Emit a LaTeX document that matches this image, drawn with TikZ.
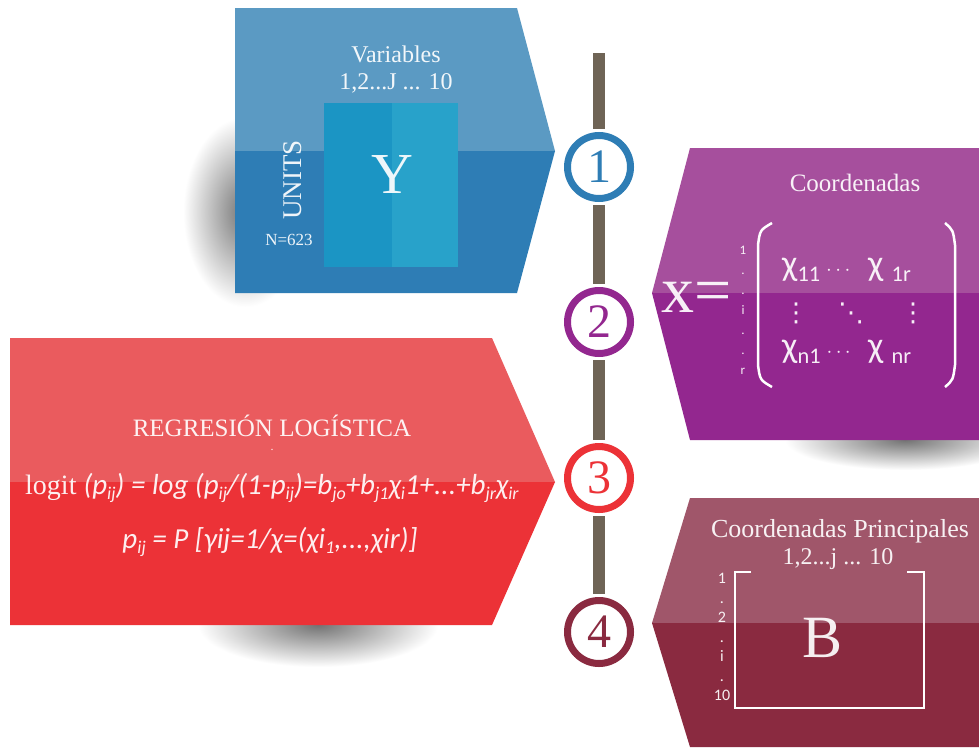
\documentclass[tikz,border=0pt]{standalone}
\usepackage{fontspec}
\setmainfont{Liberation Serif}
\newfontfamily\calibri{Carlito}
\newfontfamily\dejavu{DejaVu Sans}
\usetikzlibrary{positioning}
\definecolor{blueT}{HTML}{5B9AC3}
\definecolor{blueB}{HTML}{2E7DB5}
\definecolor{blueIL}{HTML}{1B95C4}
\definecolor{blueIR}{HTML}{28A2CA}
\definecolor{purpT}{HTML}{A64F9D}
\definecolor{purpB}{HTML}{93278F}
\definecolor{redT}{HTML}{EA5B5E}
\definecolor{redB}{HTML}{EC3237}
\definecolor{marT}{HTML}{A0566A}
\definecolor{marB}{HTML}{8A2A40}
\definecolor{barc}{HTML}{6F6456}
\newcommand{\fsz}[1]{\fontsize{#1}{#1}\selectfont}
\newcommand{\lowtxt}[1]{\raisebox{-0.35ex}{\scalebox{0.62}{#1}}}

\begin{document}
\begin{tikzpicture}[x=1pt, y=-1pt,
    wtxt/.style={text=white, text opacity=0.92, inner sep=0pt},
    ring/.style={circle, draw=#1, text=#1, line width=7pt, fill=white, minimum size=63pt, inner sep=0pt, font=\fsz{48}},
    bar/.style={line width=12pt, draw=barc, shorten >=3pt},
    shadowblob/.style={inner color=black!55, outer color=white}
]
\useasboundingbox (0,0) rectangle (979,747);
\fill[white] (0,0) rectangle (979,747);

\shade[shadowblob] (245,212) ellipse [x radius=62, y radius=95];
\shade[shadowblob] (318,625) ellipse [x radius=120, y radius=42];
\shade[shadowblob] (905,440) ellipse [x radius=120, y radius=30];
\shade[shadowblob] (982,640) ellipse [x radius=25, y radius=110];

\fill[blueT] (235,8) -- (517,8) -- (555,151) -- (235,151) -- cycle;
\fill[blueB] (235,151) -- (555,151) -- (517,293) -- (235,293) -- cycle;
\fill[blueIL] (324,103) rectangle (392,267);
\fill[blueIR] (392,103) rectangle (458,267);

\node[wtxt, font=\fsz{24}] (vars) at (396,54) {Variables};
\node[wtxt, font=\fsz{24}, below=11pt of vars] (vrange) {1,2...J ... 10};
\node[wtxt, font=\fsz{27}, rotate=90] (units) at (293,180) {UNITS};
\node[wtxt, font=\fsz{17}] (nunits) at (289,240) {N=623};
\node[wtxt, font=\fsz{58}] (ymat) at (392,175) {Y};

\fill[purpT] (690,148) -- (979,148) -- (979,293) -- (652,293) -- cycle;
\fill[purpB] (652,293) -- (979,293) -- (979,440) -- (690,440) -- cycle;

\node[wtxt, font=\fsz{25}] (coord) at (855,183) {Coordenadas};
\node[wtxt, font=\fsz{66}] (xeq) at (697,297) {x=};
\node[wtxt, font=\calibri\fontsize{13}{20}\selectfont, align=center] (xrows) at (743,310) {1\\.\\.\\i\\.\\.\\r};
\node[wtxt, font=\calibri\fsz{36}, anchor=west] (x11) at (782,270) {χ\lowtxt{11}\,{\fsz{22}$\cdots$}};
\node[wtxt, font=\calibri\fsz{36}, anchor=west] (x1r) at (868,270) {χ \lowtxt{1r}};
\node[wtxt, font=\calibri\fsz{36}, anchor=west] (xn1) at (782,352) {χ\lowtxt{n1}\,{\fsz{22}$\cdots$}};
\node[wtxt, font=\calibri\fsz{36}, anchor=west] (xnr) at (868,352) {χ \lowtxt{nr}};
\node[wtxt, font=\dejavu\fsz{26}] (vd1) at (796,313) {⋮};
\node[wtxt, font=\dejavu\fsz{26}] (dd) at (851,313) {⋱};
\node[wtxt, font=\dejavu\fsz{26}] (vd2) at (913,313) {⋮};
\draw[white, line width=2.5pt] (772,223) .. controls (760,230) .. (758,245) -- (758,365) .. controls (760,380) .. (772,387);
\draw[white, line width=2.5pt] (945,223) .. controls (953,230) .. (955,245) -- (955,365) .. controls (953,380) .. (945,387);

\fill[redT] (10,338) -- (492,338) -- (555,482) -- (10,482) -- cycle;
\fill[redB] (10,482) -- (555,482) -- (492,625) -- (10,625) -- cycle;

\node[wtxt, font=\fsz{25}] (rlog) at (272,426) {REGRESIÓN LOGÍSTICA};
\node[wtxt, font=\fsz{12}] (rdot) at (272,450) {.};
\node[wtxt, anchor=west] (logit) at (25,488) {{\fsz{28}logit }{\calibri\itshape\fsz{29}(p\lowtxt{ij}) = log (p\lowtxt{ij}/(1-p\lowtxt{ij})=b\lowtxt{jo}+b\lowtxt{j1}χ\lowtxt{i}1+...+b\lowtxt{jr}χ\lowtxt{ir}}};
\node[wtxt, font=\calibri\itshape\fsz{29}] (pij) at (270,542) {p\lowtxt{ij} = P [γij=1/χ=(χi\lowtxt{1},...,χir)]};

\fill[marT] (690,498) -- (979,498) -- (979,623) -- (652,623) -- cycle;
\fill[marB] (652,623) -- (979,623) -- (979,747) -- (690,747) -- cycle;

\node[wtxt, font=\fsz{26}] (cprin) at (840,531) {Coordenadas Principales};
\node[wtxt, font=\fsz{24}] (crange) at (838,559) {1,2...j ... 10};
\node[wtxt, font=\calibri\fontsize{16}{19.5}\selectfont, align=center] (brows) at (722,637) {1\\.\\2\\.\\i\\.\\10};
\draw[white, line width=2.5pt] (751,572) -- (735,572) -- (735,708) -- (924,708) -- (924,572) -- (907,572);
\node[wtxt, font=\fsz{60}] (bmat) at (822,638) {B};

\node[ring=blueB] (c1) at (599,167) {1};
\node[ring=purpB] (c2) at (599,322) {2};
\node[ring=redB] (c3) at (599,478) {3};
\node[ring=marB] (c4) at (599,632) {4};
\coordinate (bartop) at (599,53);

\draw[bar] (bartop) -- (c1);
\draw[bar, shorten <=3pt] (c1) -- (c2);
\draw[bar, shorten <=3pt] (c2) -- (c3);
\draw[bar, shorten <=3pt] (c3) -- (c4);
\end{tikzpicture}
\end{document}
